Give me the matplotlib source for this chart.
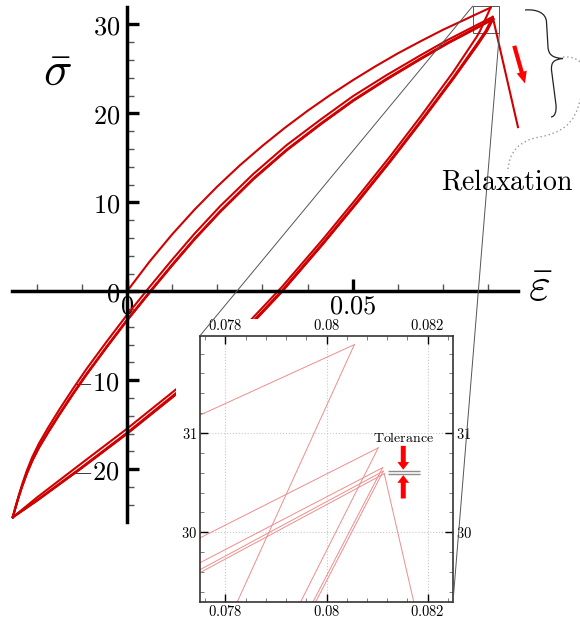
import matplotlib
matplotlib.use("Agg")
import matplotlib.pyplot as plt
from matplotlib.patches import Rectangle, ConnectionPatch, PathPatch
from matplotlib.path import Path
from matplotlib.ticker import MultipleLocator

plt.rcParams["mathtext.fontset"] = "cm"

RED = "#d10000"
PALE_RED = "#f08c8c"
ARROW_RED = "#ff0000"

# ── data: cyclic strain/stress response ──────────────────────────────────────
# virgin loading from the origin (peak appended from peak_strain/peak_stress)
load_strain = [0.0, 0.005, 0.010, 0.015, 0.020, 0.025, 0.030, 0.035, 0.040,
               0.045, 0.050, 0.055, 0.060, 0.065, 0.070, 0.075, 0.0775]
load_stress = [0.0, 3.34, 6.40, 9.20, 11.78, 14.16, 16.35, 18.39, 20.29,
               22.06, 23.72, 25.28, 26.75, 28.10, 29.40, 30.58, 31.18]

# turning points at maximum strain, one per cycle
peak_strain = [0.08055, 0.081022, 0.081109, 0.081122, 0.081141]
peak_stress = [31.89, 30.85, 30.65, 30.615, 30.59]

# reloading branches from the compressive reversal point
reload_strain = [-0.0253, -0.0247, -0.0240, -0.0232, -0.0222, -0.0210, -0.0195,
                 -0.0175, -0.0150, -0.0120, -0.0090, -0.0045, 0.0, 0.0051, 0.0100,
                 0.0150, 0.0206, 0.0280, 0.0354, 0.0430, 0.0501, 0.0575, 0.0649,
                 0.0710, 0.07749]
reload_stress_1 = [-25.4, -24.25, -22.98, -21.65, -20.17, -18.65, -17.1,
                   -15.35, -13.3, -10.98, -8.75, -5.65, -2.65, 0.55, 3.55,
                   6.5, 9.55, 13.2, 16.45, 19.35, 21.95, 24.3, 26.5,
                   28.25, 29.94]
reload_stress_2 = [-25.4, -24.3, -23.1, -21.85, -20.45, -19.0, -17.5,
                   -15.8, -13.8, -11.5, -9.3, -6.2, -3.2, 0.0, 3.0,
                   5.95, 9.0, 12.7, 15.95, 18.9, 21.5, 23.9, 26.15,
                   27.95, 29.69]
reload_stress_3 = [-25.4, -24.31, -23.12, -21.88, -20.49, -19.05, -17.56,
                   -15.87, -13.87, -11.57, -9.37, -6.27, -3.27, -0.07, 2.93,
                   5.88, 8.93, 12.63, 15.88, 18.83, 21.43, 23.83, 26.08,
                   27.88, 29.62]
reload_stress_4 = [-25.4, -24.32, -23.13, -21.9, -20.51, -19.08, -17.59,
                   -15.9, -13.9, -11.6, -9.4, -6.3, -3.3, -0.1, 2.9,
                   5.85, 8.9, 12.6, 15.85, 18.8, 21.4, 23.8, 26.05,
                   27.85, 29.59]

# unloading branches: where each one leaves the zoom window, then a shared grid
unload_exit_strain = [0.078238, 0.079491, 0.079735, 0.079788]
unload_exit_stress = 29.30
unload_strain = [0.0775, 0.0723, 0.0650, 0.0583, 0.0510, 0.0434, 0.0343,
                 0.0277, 0.0200, 0.0108, 0.0, -0.0100, -0.0200, -0.0253]
unload_stress_1 = [28.63, 24.67, 19.61, 15.17, 10.54, 5.85, 0.48,
                   -3.08, -6.93, -11.05, -15.45, -19.31, -23.2, -25.4]
unload_stress_2 = [27.81, 24.07, 19.11, 14.72, 10.12, 5.45, 0.08,
                   -3.48, -7.33, -11.47, -15.9, -19.76, -23.5, -25.4]
unload_stress_3 = [27.63, 23.93, 18.99, 14.60, 10.0, 5.33, -0.04,
                   -3.60, -7.45, -11.59, -16.0, -19.84, -23.55, -25.4]
unload_stress_4 = [27.58, 23.90, 18.96, 14.57, 9.97, 5.30, -0.07,
                   -3.63, -7.48, -11.62, -16.02, -19.86, -23.56, -25.4]

# stress relaxation after the last peak
relax_strain = [0.081141, 0.08662]
relax_stress = [30.59, 18.46]

reload_stress = [reload_stress_1, reload_stress_2, reload_stress_3, reload_stress_4]
unload_stress = [unload_stress_1, unload_stress_2, unload_stress_3, unload_stress_4]


def build_branches():
    branches = [(load_strain + [peak_strain[0]], load_stress + [peak_stress[0]])]
    for k in range(4):
        branches.append(([peak_strain[k], unload_exit_strain[k]] + unload_strain,
                         [peak_stress[k], unload_exit_stress] + unload_stress[k]))
        branches.append((reload_strain + [peak_strain[k + 1]],
                         reload_stress[k] + [peak_stress[k + 1]]))
    branches.append((relax_strain, relax_stress))
    return branches


fig = plt.figure(figsize=(5.8, 6.19), dpi=100)

# ── main axes ────────────────────────────────────────────────────────────────
ax = fig.add_axes([0.02017, 0.15719, 0.87241, 0.83102], zorder=1)
ax.set_xlim(-0.02554, 0.08656)
ax.set_ylim(-25.9, 31.93)
ax.patch.set_visible(False)

for eps, sig in build_branches():
    ax.plot(eps, sig, color=RED, lw=1.5, clip_on=False, solid_joinstyle="miter")

for side in ("top", "right"):
    ax.spines[side].set_visible(False)
ax.spines["left"].set_position(("data", 0))
ax.spines["bottom"].set_position(("data", 0))
for side in ("left", "bottom"):
    ax.spines[side].set_linewidth(2.5)

ax.set_xticks([0, 0.05])
ax.set_xticklabels([r"$0$", r"$0.05$"])
ax.set_yticks([-20, -10, 0, 10, 20, 30])
ax.set_yticklabels([r"$-20$", r"$-10$", r"$0$", r"$10$", r"$20$", r"$30$"])
ax.xaxis.set_minor_locator(MultipleLocator(0.01))
ax.yaxis.set_minor_locator(MultipleLocator(2))
ax.tick_params(which="major", direction="in", length=8.5, width=2.4, labelsize=19, pad=5)
ax.tick_params(axis="x", which="major", pad=1.5)
ax.tick_params(which="minor", direction="in", length=5, width=1.0, color="#555555")

ax.text(-0.0155, 24.6, r"$\bar{\sigma}$", fontsize=34, ha="center", va="center")
ax.text(0.0915, 0.3, r"$\bar{\varepsilon}$", fontsize=34, ha="center", va="center",
        clip_on=False)

# zoom window on the peaks
ax.add_patch(Rectangle((0.0766, 29.0), 0.0059, 3.06, fill=False, ec="#555555",
                       lw=0.7, clip_on=False))

# relaxation direction
ax.annotate("", xy=(0.08817, 23.37), xytext=(0.0858, 27.6), annotation_clip=False,
            arrowprops=dict(arrowstyle="simple,head_length=0.85,head_width=0.75,tail_width=0.3",
                            color=ARROW_RED, lw=0, mutation_scale=10, shrinkA=0, shrinkB=0))

# white backing behind the inset and its labels
fig.patches.append(Rectangle((176 / 580, 0), 294 / 580, 300 / 619, transform=fig.transFigure,
                             facecolor="white", edgecolor="none", zorder=2))

# ── inset: detail of the turning points ──────────────────────────────────────
axin = fig.add_axes([0.34483, 0.02795, 0.43621, 0.4297], zorder=3)
axin.set_xlim(0.0775, 0.0825)
axin.set_ylim(29.3, 31.98)
for eps, sig in build_branches():
    axin.plot(eps, sig, color=PALE_RED, lw=0.7)

axin.set_xticks([0.078, 0.08, 0.082])
axin.set_xticklabels([r"$0.078$", r"$0.08$", r"$0.082$"])
axin.set_yticks([30, 31])
axin.set_yticklabels([r"$30$", r"$31$"])
axin.xaxis.set_minor_locator(MultipleLocator(0.0004))
axin.yaxis.set_minor_locator(MultipleLocator(0.2))
axin.tick_params(which="both", direction="in", top=True, right=True,
                 labeltop=True, labelright=True, labelsize=10.5, pad=2)
axin.tick_params(which="major", length=6, width=1.0)
axin.tick_params(which="minor", length=3, width=0.6, color="#666666")
axin.grid(which="major", linestyle=":", color="#c8c8c8", lw=0.8)
for sp in axin.spines.values():
    sp.set_linewidth(1.2)
    sp.set_color("#333333")

# tolerance band between the last two peaks
axin.hlines(peak_stress[3:], 0.081214, 0.081847, colors="#8c8c8c", lw=1.0)
tol_x = 0.081517
arrow_style = "simple,head_length=0.55,head_width=0.85,tail_width=0.36"
axin.annotate("", xy=(tol_x, 30.63), xytext=(tol_x, 30.87),
              arrowprops=dict(arrowstyle=arrow_style, color=ARROW_RED, lw=0,
                              mutation_scale=10, shrinkA=0, shrinkB=0))
axin.annotate("", xy=(tol_x, 30.575), xytext=(tol_x, 30.34),
              arrowprops=dict(arrowstyle=arrow_style, color=ARROW_RED, lw=0,
                              mutation_scale=10, shrinkA=0, shrinkB=0))
axin.text(tol_x, 30.947, r"$\mathrm{Tolerance}$", fontsize=10, ha="center", va="center")

# connectors from the zoom window to the inset
for xy_main, xy_in in [((0.0766, 32.06), (0, 1)), ((0.0825, 29.0), (1, 0))]:
    con = ConnectionPatch(xyA=xy_main, coordsA=ax.transData, xyB=xy_in,
                          coordsB=axin.transAxes, color="#555555", lw=0.7, zorder=4)
    fig.add_artist(con)

# ── overlay in pixel units: brace and label for the relaxation ───────────────
ov = fig.add_axes([0, 0, 1, 1], zorder=5)
ov.set_xlim(0, 580)
ov.set_ylim(619, 0)
ov.axis("off")

brace = Path(
    [(525, 10), (537, 9), (546, 13), (546.5, 22),
     (548, 47),
     (548.5, 55), (553, 58), (563, 58.5),
     (554, 59.5), (551, 62), (551.5, 70),
     (556, 105),
     (556.5, 112), (555, 116.5), (551, 117)],
    [Path.MOVETO, Path.CURVE4, Path.CURVE4, Path.CURVE4,
     Path.LINETO,
     Path.CURVE4, Path.CURVE4, Path.CURVE4,
     Path.CURVE4, Path.CURVE4, Path.CURVE4,
     Path.LINETO,
     Path.CURVE4, Path.CURVE4, Path.CURVE4])
ov.add_patch(PathPatch(brace, fill=False, ec="#222222", lw=0.9))

leader = Path(
    [(563, 57), (590, 55), (592, 85), (580, 100),
     (575, 125), (560, 133), (540, 137),
     (520, 140), (508, 152), (508, 172)],
    [Path.MOVETO, Path.CURVE4, Path.CURVE4, Path.CURVE4,
     Path.CURVE4, Path.CURVE4, Path.CURVE4,
     Path.CURVE4, Path.CURVE4, Path.CURVE4])
ov.add_patch(PathPatch(leader, fill=False, ec="#999999", lw=1.0, ls=(0, (1, 2))))

ov.text(507, 182, r"$\mathrm{Relaxation}$", fontsize=20, ha="center", va="center")

fig.savefig("out.png", dpi=100)
